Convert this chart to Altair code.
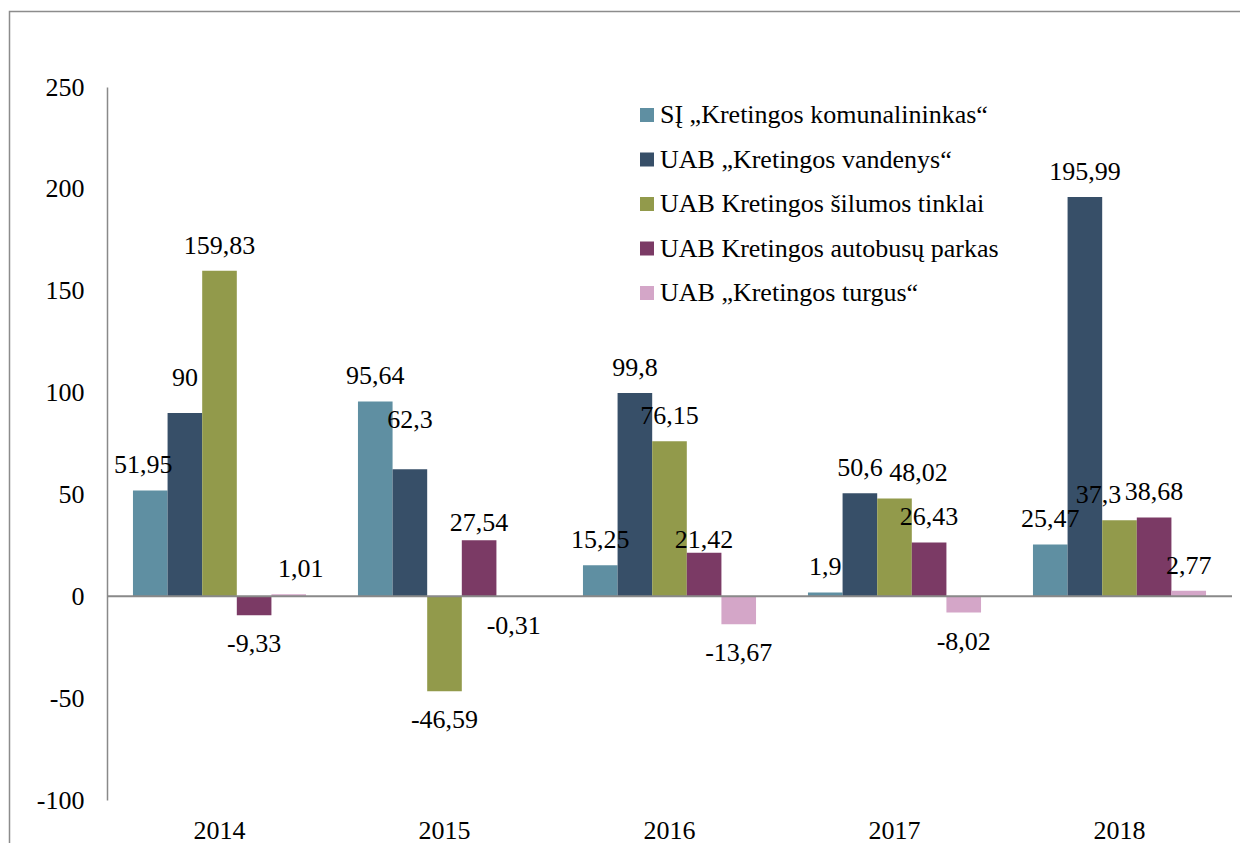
import altair as alt
import pandas as pd

years = ["2014", "2015", "2016", "2017", "2018"]
series = [
    "SĮ „Kretingos komunalininkas“",
    "UAB „Kretingos vandenys“",
    "UAB Kretingos šilumos tinklai",
    "UAB Kretingos autobusų parkas",
    "UAB „Kretingos turgus“",
]
komunalininkas = [51.95, 95.64, 15.25, 1.9, 25.47]
vandenys = [90, 62.3, 99.8, 50.6, 195.99]
silumos = [159.83, -46.59, 76.15, 48.02, 37.3]
autobusu = [-9.33, 27.54, 21.42, 26.43, 38.68]
turgus = [1.01, -0.31, -13.67, -8.02, 2.77]
colors = ["#5F8FA2", "#374F68", "#929A4B", "#7B3A65", "#D4A6C8"]

rows = []
for si, (s, vals) in enumerate(zip(series, [komunalininkas, vandenys, silumos, autobusu, turgus])):
    for y, v in zip(years, vals):
        rows.append({"year": y, "series": s, "si": si, "value": v,
                     "label": f"{v:g}".replace(".", ",")})
df = pd.DataFrame(rows)

FONT = "'Liberation Serif', 'Times New Roman', Times, serif"
FS = 26

base = alt.Chart(df)

x = alt.X("year:N", sort=years, title=None,
          scale=alt.Scale(paddingInner=0, paddingOuter=0),
          axis=alt.Axis(labelAngle=0, domain=False, ticks=False, tickSize=0,
                        labelPadding=17, labelFontSize=FS, labelFont=FONT,
                        labelColor="black"))
xo = alt.XOffset("series:N", sort=series,
                 scale=alt.Scale(paddingInner=0, paddingOuter=0.75))
y = alt.Y("value:Q", title=None,
          scale=alt.Scale(domain=[-100, 250], nice=False, zero=False),
          axis=alt.Axis(values=[-100, -50, 0, 50, 100, 150, 200, 250],
                        labelExpr="toString(datum.value)",
                        grid=False, ticks=False, tickSize=0, labelPadding=23,
                        domainColor="#898989", domainWidth=1.5,
                        labelFontSize=FS, labelFont=FONT, labelColor="black"))

bars = base.mark_bar().encode(
    x=x, xOffset=xo, y=y,
    color=alt.Color("series:N", sort=series,
                    scale=alt.Scale(domain=series, range=colors),
                    legend=alt.Legend(title=None, orient="none", legendX=527, legendY=15,
                                      symbolType="square", symbolSize=196,
                                      symbolStrokeWidth=0, labelFont=FONT,
                                      labelFontSize=FS, labelColor="black",
                                      labelOffset=0, rowPadding=18.5, padding=0,
                                      labelLimit=600)),
)

# Excel-style label placement nudges: (year, series index, dx, dy)
nudges = [
    ("2014", 0, -7, 0),
    ("2014", 1, 0, -10),
    ("2014", 4, 12, 0),
    ("2015", 1, 0, -24),
    ("2015", 3, 0, 8),
    ("2016", 3, 0, 12),
    ("2017", 2, 24, 0),
    ("2018", 2, -21, 0),
]

def cond_of(yr, si):
    return f"(datum.year == '{yr}' && datum.si == {si})"

def text_layer(cond, dy, dx=0):
    return base.transform_filter(cond).mark_text(
        font=FONT, fontSize=FS, baseline="middle", dy=dy, dx=dx, color="black"
    ).encode(x=x, xOffset=xo, y=y, text="label:N")

any_nudge = " || ".join(cond_of(yr, si) for yr, si, _, _ in nudges)
layers = [
    text_layer(f"datum.value >= 0 && !({any_nudge})", -25),
    text_layer(f"datum.value < 0 && !({any_nudge})", 29),
]
for yr, si, dx, dy in nudges:
    layers.append(text_layer(cond_of(yr, si), -25 + dy, dx))

zero = alt.Chart(pd.DataFrame({"z": [0]})).mark_rule(
    color="#898989", strokeWidth=2
).encode(y=alt.Y("z:Q"))

border = alt.Chart(pd.DataFrame({"a": [0]})).mark_rect(
    fillOpacity=0, stroke="#8C8C8C", strokeWidth=1.5, clip=False
).encode(x=alt.value(-97.5), x2=alt.value(1300), y=alt.value(-75.5), y2=alt.value(900))

chart = alt.layer(border, bars, zero, *layers).properties(
    width=1125, height=713,
    autosize=alt.AutoSizeParams(type="none"),
    padding={"left": 99, "top": 79, "right": 8, "bottom": 43},
    background="white",
).configure(font=FONT).configure_view(stroke=None)

chart.save("out.html", embed_options={"renderer": "svg", "actions": False})
